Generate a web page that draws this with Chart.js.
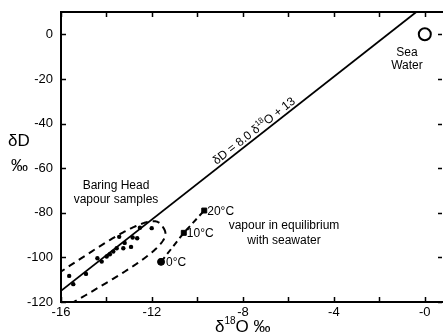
<!DOCTYPE html>
<html>
<head>
<meta charset="utf-8">
<script src="https://cdn.jsdelivr.net/npm/chart.js@4/dist/chart.umd.min.js"></script>
<style>
html,body{margin:0;padding:0;background:#fff;overflow:hidden;}
canvas{display:block;}
</style>
</head>
<body>
<canvas id="c" width="443" height="335"></canvas>
<script>
// ---- data ----
const sampleD18O = [-15.64, -15.46, -14.90, -14.40, -14.21, -13.99, -13.85, -13.70, -13.55, -13.44, -13.26, -13.20, -12.92, -12.85, -12.65, -12.53, -12.01];
const sampleDD   = [-108.3, -112.0, -107.4, -100.4, -101.9, -99.6, -98.6, -97.4, -95.9, -90.8, -95.9, -93.5, -95.3, -91.1, -91.4, -86.7, -86.9];

const eqD18O = [-11.6, -10.6, -9.7];
const eqDD   = [-102, -89, -79];
const eqLabels = ['0°C', '10°C', '20°C'];

const seaD18O = [0];
const seaDD   = [0];

const gmwlD18O = [-16, -0.375];
const gmwlDD   = [-115, 10];

const envelopeCenter = [-14.72, -106.9]; // δ18O, δD of the sample envelope centre

const xTickValues = [-16, -14, -12, -10, -8, -6, -4, -2, 0];
const xTickLabels = {'-16':'-16', '-12':'-12', '-8':'-8', '-4':'-4', '0':'-0'};
const yTickValues = [0, -20, -40, -60, -80, -100, -120];
const yTickLabels = ['0', '-20', '-40', '-60', '-80', '-100', '-120'];

const FONT = '"Liberation Sans", Arial, Helvetica, sans-serif';

function pts(xs, ys){ return xs.map((v,i)=>({x:v, y:ys[i]})); }

// rich text helper: parts = [{t, size, dy}]
function drawRich(ctx, parts, x, y, align){
  let w = 0;
  parts.forEach(p=>{ ctx.font = p.size + 'px ' + FONT; p.w = ctx.measureText(p.t).width; w += p.w; });
  let cx = align === 'center' ? x - w/2 : x;
  parts.forEach(p=>{ ctx.font = p.size + 'px ' + FONT; ctx.fillText(p.t, cx, y + (p.dy||0)); cx += p.w; });
}

const bgPlugin = {
  id:'bg',
  beforeDraw(chart){
    const ctx = chart.ctx;
    ctx.save(); ctx.fillStyle = '#fff'; ctx.fillRect(0,0,chart.width,chart.height); ctx.restore();
  }
};

// dashed envelope around the Baring Head samples
const envelopePlugin = {
  id:'envelope',
  afterDatasetsDraw(chart){
    const {ctx, chartArea:a, scales:{x,y}} = chart;
    const cx = x.getPixelForValue(envelopeCenter[0]);
    const cy = y.getPixelForValue(envelopeCenter[1]);
    const th = 32 * Math.PI / 180, ct = Math.cos(th), st = Math.sin(th);
    const A = 86, B = 17, N = 3, K = 0.1, STEPS = 240;
    ctx.save();
    ctx.beginPath(); ctx.rect(a.left, a.top, a.right-a.left, a.bottom-a.top); ctx.clip();
    ctx.strokeStyle = '#000'; ctx.lineWidth = 2; ctx.setLineDash([7,5]);
    ctx.beginPath();
    for (let k = 0; k <= STEPS; k++){
      const t = 2*Math.PI*k/STEPS, c = Math.cos(t), s = Math.sin(t);
      const u = A*Math.sign(c)*Math.pow(Math.abs(c), 2/N);
      const v = B*(1 + K*u/A)*Math.sign(s)*Math.pow(Math.abs(s), 2/N);
      const px = cx + u*ct + v*st;
      const py = cy - u*st + v*ct;
      if (k === 0) ctx.moveTo(px, py); else ctx.lineTo(px, py);
    }
    ctx.closePath();
    ctx.stroke();
    ctx.restore();
  }
};

const framePlugin = {
  id:'frame',
  afterDraw(chart){
    const {ctx, chartArea:a, scales:{x,y}} = chart;
    ctx.save();
    ctx.strokeStyle = '#000';
    ctx.lineWidth = 2;
    ctx.beginPath();
    ctx.moveTo(a.left, a.top); ctx.lineTo(a.left, a.bottom+1);
    ctx.moveTo(a.left-1, a.bottom); ctx.lineTo(a.right, a.bottom);
    ctx.moveTo(a.left-1, a.top); ctx.lineTo(a.right, a.top);
    ctx.stroke();
    ctx.lineWidth = 1.5;
    ctx.beginPath();
    xTickValues.forEach(v=>{
      const px = Math.round(x.getPixelForValue(v)) + 0.5;
      ctx.moveTo(px, a.bottom); ctx.lineTo(px, a.bottom-5);
      ctx.moveTo(px, a.top); ctx.lineTo(px, a.top+5);
    });
    yTickValues.forEach(v=>{
      const py = Math.round(y.getPixelForValue(v)) + 0.5;
      ctx.moveTo(a.left, py); ctx.lineTo(a.left+5, py);
      ctx.moveTo(a.right-1, py); ctx.lineTo(a.right-5, py);
    });
    ctx.stroke();

    // axis titles
    ctx.fillStyle = '#000';
    ctx.textAlign = 'left'; ctx.textBaseline = 'alphabetic';
    drawRich(ctx, [{t:'δD', size:17}], 8, 146, 'left');
    drawRich(ctx, [{t:'‰', size:17}], 11, 171, 'left');
    drawRich(ctx, [{t:'δ', size:17}, {t:'18', size:10, dy:-8}, {t:'O ‰', size:17}], 215, 332, 'left');

    // annotations
    drawRich(ctx, [{t:'Sea', size:12}], 407, 56, 'center');
    drawRich(ctx, [{t:'Water', size:12}], 407, 69, 'center');
    drawRich(ctx, [{t:'Baring Head', size:12}], 116, 189, 'center');
    drawRich(ctx, [{t:'vapour samples', size:12}], 116, 203, 'center');
    drawRich(ctx, [{t:'vapour in equilibrium', size:12}], 284, 229, 'center');
    drawRich(ctx, [{t:'with seawater', size:12}], 284, 244, 'center');

    const labOff = [[5, 4], [3, 4], [3, 4]];
    eqLabels.forEach((lab,i)=>{
      const px = x.getPixelForValue(eqD18O[i]);
      const py = y.getPixelForValue(eqDD[i]);
      drawRich(ctx, [{t:lab, size:12}], px + labOff[i][0], py + labOff[i][1], 'left');
    });

    // equation along the line
    const x0 = x.getPixelForValue(gmwlD18O[0]), y0 = y.getPixelForValue(gmwlDD[0]);
    const x1 = x.getPixelForValue(gmwlD18O[1]), y1 = y.getPixelForValue(gmwlDD[1]);
    const ang = Math.atan2(y1-y0, x1-x0);
    const t = 0.555;
    const lx = x0 + (x1-x0)*t, ly = y0 + (y1-y0)*t;
    ctx.save();
    ctx.translate(lx, ly);
    ctx.rotate(ang);
    drawRich(ctx, [{t:'δD = 8.0 δ', size:12}, {t:'18', size:8, dy:-5}, {t:'O + 13', size:12}], 0, -3, 'center');
    ctx.restore();

    ctx.restore();
  }
};

new Chart(document.getElementById('c'), {
  type:'scatter',
  data:{
    datasets:[
      {label:'δD = 8.0 δ18O + 13', data:pts(gmwlD18O, gmwlDD), showLine:true, borderColor:'#000', borderWidth:1.8, pointRadius:0, fill:false},
      {label:'Baring Head vapour samples', data:pts(sampleD18O, sampleDD), pointRadius:2.2, backgroundColor:'#000', borderColor:'#000', borderWidth:0},
      {label:'vapour in equilibrium with seawater', data:pts(eqD18O, eqDD), showLine:true, borderColor:'#000', borderWidth:2, borderDash:[6,4], pointRadius:3.5, pointStyle:['circle','rect','rect'], backgroundColor:'#000', pointBorderColor:'#000', pointBorderWidth:1},
      {label:'Sea Water', data:pts(seaD18O, seaDD), pointRadius:6, borderColor:'#000', borderWidth:2, backgroundColor:'#fff'}
    ]
  },
  options:{
    responsive:false,
    animation:false,
    devicePixelRatio:1,
    layout:{autoPadding:false, padding:{top:12, left:0, right:0, bottom:0}},
    plugins:{legend:{display:false}, tooltip:{enabled:false}},
    scales:{
      x:{
        type:'linear', min:-16, max:0.8,
        grid:{display:false, drawTicks:false},
        border:{display:false},
        ticks:{color:'#000', padding:3, autoSkip:false, maxRotation:0, font:{family:FONT, size:13},
          callback:(v)=> xTickLabels[String(v)] !== undefined ? xTickLabels[String(v)] : ''},
        afterBuildTicks:(s)=>{ s.ticks = xTickValues.map(v=>({value:v})); },
        afterFit:(s)=>{ s.height = 33; s.paddingLeft = 0; s.paddingRight = 0; }
      },
      y:{
        type:'linear', min:-120, max:10,
        grid:{display:false, drawTicks:false},
        border:{display:false},
        ticks:{color:'#000', padding:8, autoSkip:false, font:{family:FONT, size:13},
          callback:(v)=>{ const i = yTickValues.indexOf(v); return i >= 0 ? yTickLabels[i] : ''; }},
        afterBuildTicks:(s)=>{ s.ticks = yTickValues.map(v=>({value:v})); },
        afterFit:(s)=>{ s.width = 61; s.paddingTop = 0; s.paddingBottom = 0; }
      }
    }
  },
  plugins:[bgPlugin, envelopePlugin, framePlugin]
});
</script>
</body>
</html>
